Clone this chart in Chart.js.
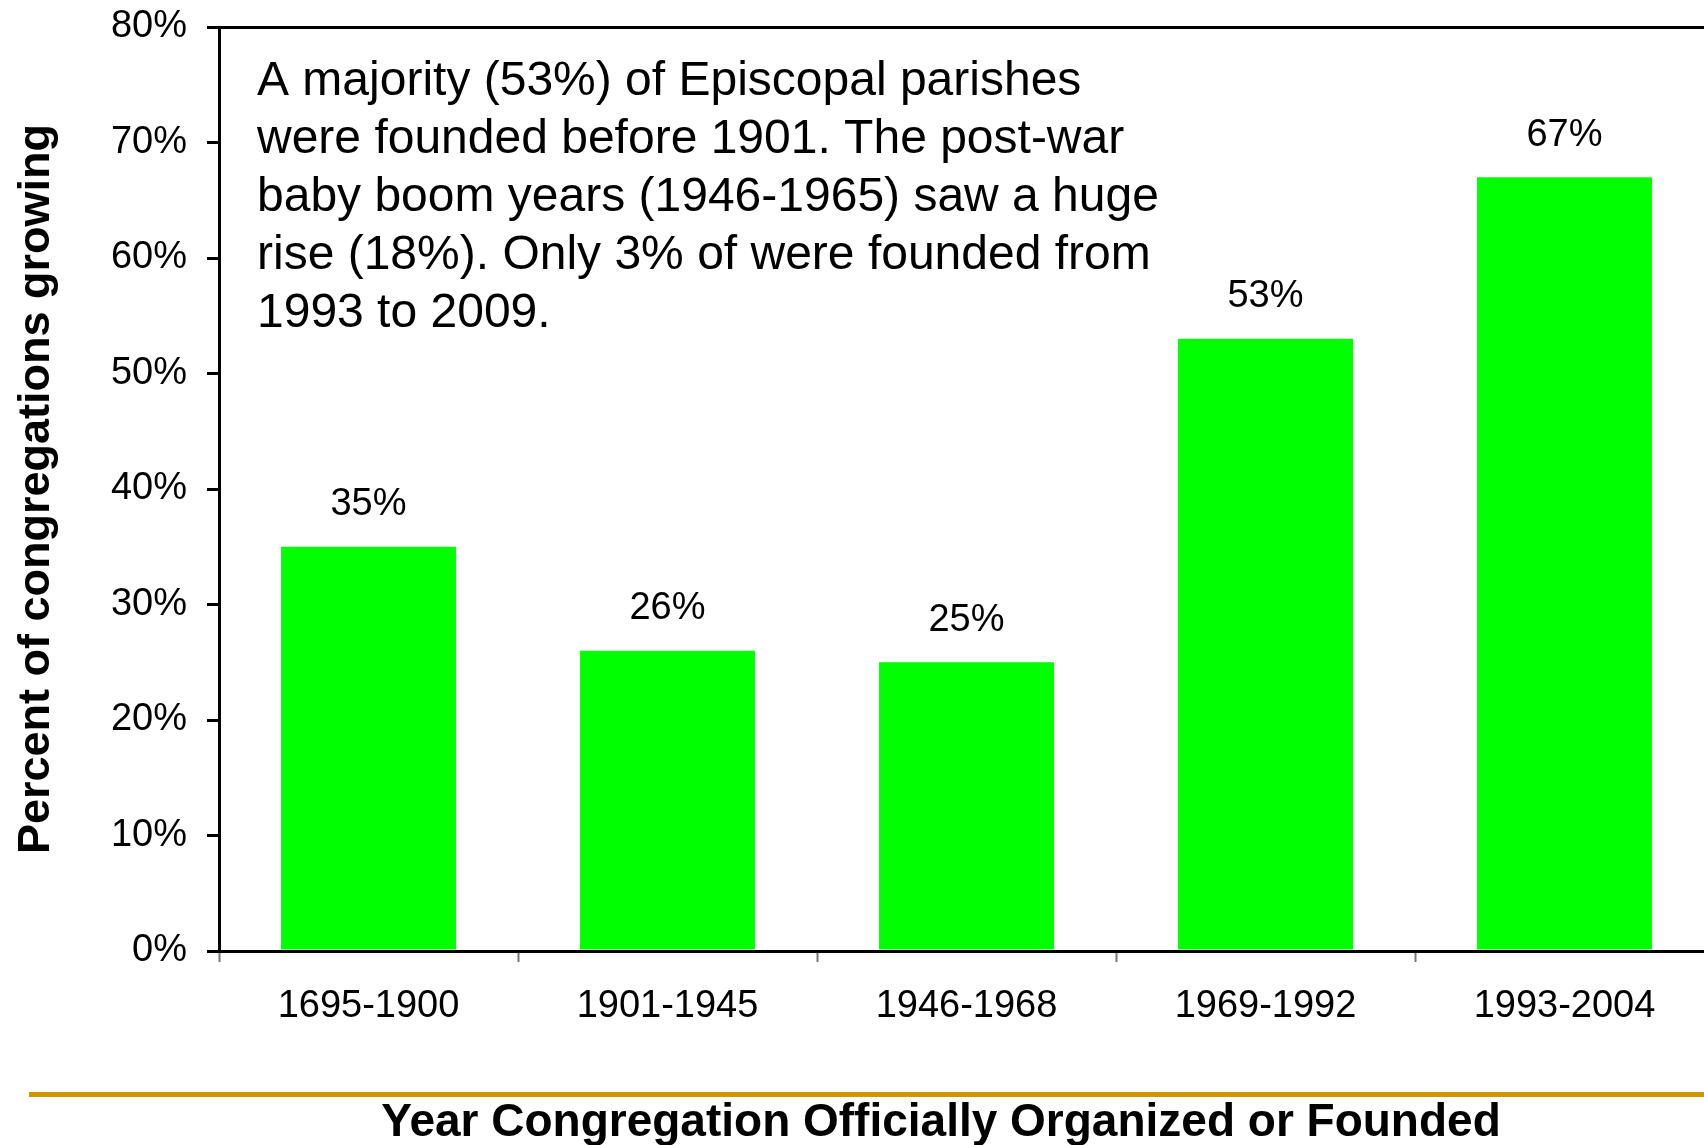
<!DOCTYPE html>
<html>
<head>
<meta charset="utf-8">
<script src="https://cdn.jsdelivr.net/npm/chart.js@4.4.1/dist/chart.umd.min.js"></script>
<style>
  html, body { margin: 0; padding: 0; background: #fff; }
  #wrap { width: 1704px; height: 1145px; overflow: hidden; position: relative; }
</style>
</head>
<body>
<div id="wrap"><canvas id="foundedChart" width="1720" height="1145"></canvas></div>
<script>
// data
const periods = ['1695-1900', '1901-1945', '1946-1968', '1969-1992', '1993-2004'];
const growingPct = [35, 26, 25, 53, 67];
const yTicks = [0, 10, 20, 30, 40, 50, 60, 70, 80];

const noteLines = [
    'A majority (53%) of Episcopal parishes',
    'were founded before 1901. The post-war',
    'baby boom years (1946-1965) saw a huge',
    'rise (18%). Only 3% of were founded from',
    '1993 to 2009.'
];
const xTitle = 'Year Congregation Officially Organized or Founded';
const yTitle = 'Percent of congregations growing';

const FONT = '"Liberation Sans", Arial, sans-serif';

// labels above bars, note text, gold rule and the x title
const extras = {
    id: 'extras',
    afterDatasetsDraw(chart) {
        const ctx = chart.ctx;
        const area = chart.chartArea;
        ctx.save();
        ctx.fillStyle = '#000';
        ctx.font = '38px ' + FONT;
        ctx.textAlign = 'center';
        ctx.textBaseline = 'middle';
        chart.getDatasetMeta(0).data.forEach((bar, i) => {
            ctx.fillText(growingPct[i] + '%', bar.x, bar.y - 42);
        });

        ctx.font = '48px ' + FONT;
        ctx.textAlign = 'left';
        noteLines.forEach((line, i) => {
            ctx.fillText(line, area.left + 38, area.top + 55 + i * 58);
        });

        ctx.fillStyle = '#cc9900';
        ctx.fillRect(29, 1092, chart.width, 5);

        ctx.fillStyle = '#000';
        ctx.font = 'bold 46px ' + FONT;
        ctx.textAlign = 'center';
        ctx.textBaseline = 'alphabetic';
        ctx.fillText(xTitle, 941, 1136);
        ctx.restore();
    }
};

new Chart(document.getElementById('foundedChart'), {
    type: 'bar',
    data: {
        labels: periods,
        datasets: [{
            data: growingPct,
            backgroundColor: '#00ff00',
            borderWidth: 0,
            barPercentage: 0.585,
            categoryPercentage: 1
        }]
    },
    options: {
        responsive: false,
        animation: false,
        devicePixelRatio: 1,
        layout: { padding: { top: 27, right: 6, left: 0, bottom: 0 } },
        plugins: { legend: { display: false }, tooltip: { enabled: false } },
        scales: {
            x: {
                afterFit: s => { s.height = 194; s.paddingLeft = 0; s.paddingRight = 0; },
                grid: { drawOnChartArea: false, tickLength: 11, tickColor: '#777', tickWidth: 2 },
                border: { color: '#000', width: 3 },
                ticks: { color: '#000', padding: 22, font: { family: FONT, size: 38 } }
            },
            y: {
                min: 0,
                max: 80,
                afterFit: s => { s.width = 219; s.paddingTop = 0; s.paddingBottom = 0; },
                afterBuildTicks: s => { s.ticks = yTicks.map(v => ({ value: v })); },
                grid: {
                    color: c => (c.tick && c.tick.value === 80) ? '#000' : 'rgba(0,0,0,0)',
                    lineWidth: 3,
                    tickLength: 12,
                    tickColor: '#000',
                    tickWidth: 3
                },
                border: { color: '#000', width: 3 },
                ticks: {
                    color: '#000',
                    padding: 20,
                    font: { family: FONT, size: 38 },
                    callback: v => v + '%'
                },
                title: {
                    display: true,
                    text: yTitle,
                    color: '#000',
                    padding: { top: 10, bottom: 0 },
                    font: { family: FONT, size: 45, weight: 'bold' }
                }
            }
        }
    },
    plugins: [extras]
});
</script>
</body>
</html>
